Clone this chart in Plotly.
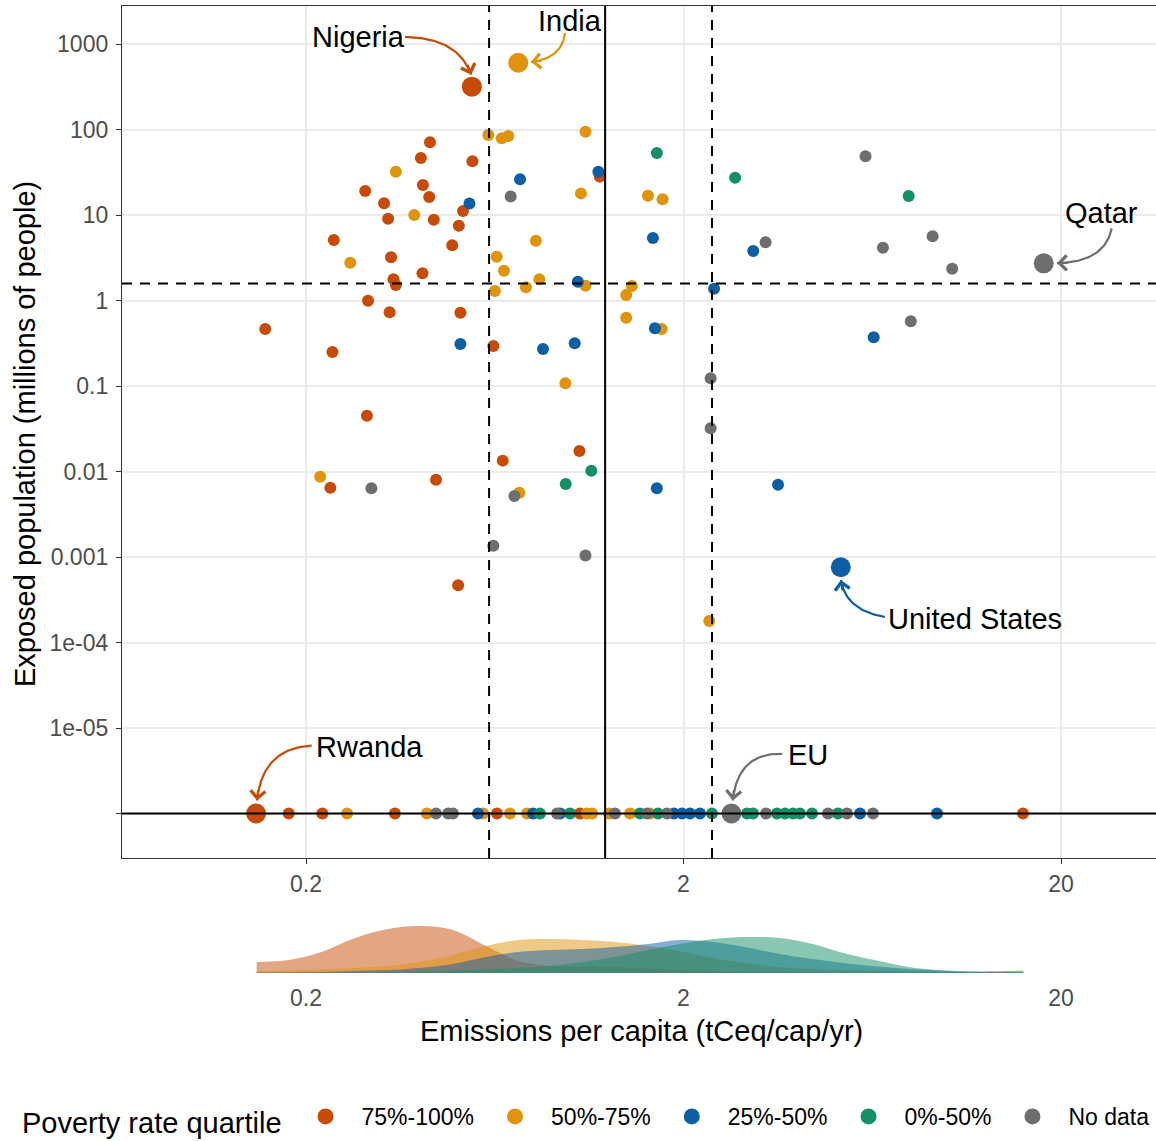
import math
import numpy as np
import plotly.graph_objects as go

# ---------------------------------------------------------------- data
groups = ["75%-100%", "50%-75%", "25%-50%", "0%-50%", "No data"]
group_colors = ["#C84B05", "#E0940E", "#0C5EA5", "#148F66", "#6E6E6E"]
density_fills = ["rgba(200,75,5,0.5)", "rgba(224,148,14,0.5)",
                 "rgba(12,94,165,0.5)", "rgba(20,143,102,0.5)"]

# Emissions per capita (tCeq/cap/yr) and exposed population (millions).
# An exposed population of 0 means no exposure.
pov75_emissions = [0.426, 0.403, 0.552, 1.20, 0.408, 0.287, 0.424, 0.322, 0.521, 0.330,
                   0.436, 0.508, 0.237, 0.488, 0.336, 0.407, 0.341, 0.346, 0.292, 0.333,
                   0.513, 0.156, 0.627, 0.235, 0.290, 0.664, 1.06, 0.232, 0.442, 0.506,
                   0.180, 0.221, 0.344, 0.641, 1.064, 15.86]
pov75_exposed = [70.8, 46.4, 42.5, 28.1, 22.4, 19.1, 16.2, 13.7, 11.1, 9.05,
                 8.81, 7.50, 5.10, 4.42, 3.20, 2.08, 1.77, 1.52, 0.995, 0.728,
                 0.720, 0.464, 0.294, 0.250, 0.0449, 0.0134, 0.0174, 0.00646, 0.00802, 0.000467,
                 0, 0, 0, 0, 0, 0]

pov50_emissions = [0.608, 0.660, 0.687, 1.10, 0.346, 1.07, 0.387, 0.813, 0.262, 0.640,
                   0.669, 0.830, 1.10, 0.633, 0.765, 1.46, 1.41, 1.41, 0.973, 1.61,
                   1.76, 1.75, 0.218, 0.735, 2.34,
                   0.257, 0.418, 0.589, 0.694, 0.770, 1.110, 1.145, 1.270, 1.443, 1.630]
pov50_exposed = [86.2, 78.9, 83.9, 94.2, 32.1, 17.9, 10.0, 5.01, 2.77, 3.25,
                 2.23, 1.77, 1.49, 1.29, 1.43, 1.48, 1.16, 0.629, 0.108, 16.8,
                 15.3, 0.464, 0.00869, 0.00565, 0.000178,
                 0, 0, 0, 0, 0, 0, 0, 0, 0, 0]

pov25_emissions = [0.738, 1.19, 0.542, 1.05, 0.513, 0.849, 1.03, 1.66, 3.06, 2.41,
                   1.68, 6.38, 1.70, 3.56,
                   0.571, 0.799, 0.942, 1.887, 1.982, 2.081, 2.212, 5.870, 9.388]
pov25_exposed = [26.2, 32.1, 13.6, 1.66, 0.310, 0.271, 0.316, 5.38, 3.79, 1.37,
                 0.473, 0.371, 0.00636, 0.00701,
                 0, 0, 0, 0, 0, 0, 0, 0, 0]

pov0_emissions = [1.70, 2.74, 7.90, 1.14, 0.975,
                  0.833, 1.001, 1.534, 1.712, 2.379, 2.946, 3.056, 3.537, 3.714,
                  3.900, 4.070, 4.381, 5.132]
pov0_exposed = [53.1, 27.3, 16.7, 0.0102, 0.00714,
                0, 0, 0, 0, 0, 0, 0, 0, 0, 0, 0, 0, 0]

nodata_emissions = [0.697, 6.07, 3.30, 6.75, 9.14, 10.3, 8.00, 2.36, 2.36, 0.298,
                    0.713, 0.627, 1.10,
                    0.442, 0.476, 0.490, 0.925, 1.317, 1.601, 1.808, 3.309, 4.828,
                    5.422, 6.354]
nodata_exposed = [16.5, 48.6, 4.80, 4.15, 5.64, 2.35, 0.571, 0.123, 0.0320, 0.00636,
                  0.00517, 0.00135, 0.00104,
                  0, 0, 0, 0, 0, 0, 0, 0, 0, 0, 0]

# highlighted countries
hl_country = ["Nigeria", "India", "United States", "Qatar", "Rwanda", "EU"]
hl_group = ["75%-100%", "50%-75%", "25%-50%", "No data", "75%-100%", "No data"]
hl_emissions = [0.550, 0.730, 5.22, 18.0, 0.1475, 2.68]
hl_exposed = [317, 604, 0.000758, 2.72, 0, 0]

# reference levels
emissions_q1, emissions_median, emissions_q3 = 0.611, 1.24, 2.38
exposed_ref = 1.58

# smoothed emissions distribution by poverty quartile
density_emissions = [0.148, 0.18, 0.22, 0.27, 0.33, 0.40, 0.49, 0.60, 0.73, 0.89, 1.08,
                     1.32, 1.61, 1.96, 2.4, 2.9, 3.6, 4.4, 5.3, 6.5, 7.9, 9.7, 11.8,
                     14.4, 15.9]
density_pov75 = [0.22, 0.26, 0.42, 0.70, 0.88, 0.94, 0.86, 0.54, 0.24, 0.14, 0.13, 0.12,
                 0.09, 0.06, 0.04, 0.024, 0.016, 0.01, 0.008, 0.006, 0.006, 0.008, 0.016,
                 0.04, 0.05]
density_pov50 = [0.04, 0.05, 0.07, 0.10, 0.14, 0.22, 0.36, 0.54, 0.66, 0.68, 0.66, 0.62,
                 0.54, 0.44, 0.30, 0.20, 0.12, 0.08, 0.06, 0.04, 0.03, 0.02, 0.012,
                 0.008, 0.006]
density_pov25 = [0.01, 0.014, 0.02, 0.04, 0.06, 0.10, 0.18, 0.32, 0.42, 0.46, 0.48, 0.52,
                 0.58, 0.66, 0.62, 0.52, 0.38, 0.28, 0.20, 0.13, 0.08, 0.05, 0.036,
                 0.024, 0.02]
density_pov0 = [0.0, 0.002, 0.004, 0.008, 0.016, 0.03, 0.05, 0.07, 0.10, 0.14, 0.22, 0.32,
                0.46, 0.58, 0.68, 0.72, 0.70, 0.58, 0.40, 0.25, 0.12, 0.05, 0.016,
                0.006, 0.003]

# ---------------------------------------------------------------- layout geometry
FIG_W, FIG_H = 1156, 1141
FONT = "Liberation Sans, Arial, sans-serif"
X_DOMAIN = [122 / FIG_W, 1.0]
Y_DOMAIN = [(FIG_H - 858) / FIG_H, (FIG_H - 6) / FIG_H]
DENS_DOMAIN = [(FIG_H - 973) / FIG_H, (FIG_H - 915) / FIG_H]
X_RANGE = [-1.1864, 1.5527]
Y_RANGE = [-6.5205, 3.4444]
ZERO_FLOOR = 1e-6  # zero exposure is drawn on this floor line

PX_PER_DEC_X = (X_DOMAIN[1] - X_DOMAIN[0]) * FIG_W / (X_RANGE[1] - X_RANGE[0])
PX_PER_DEC_Y = (Y_DOMAIN[1] - Y_DOMAIN[0]) * FIG_H / (Y_RANGE[1] - Y_RANGE[0])


def on_floor(values):
    return [v if v > 0 else ZERO_FLOOR for v in values]


def shift(x, y, dx, dy):
    """Move a data point by (dx, dy) screen pixels (dy downwards)."""
    return (10 ** (math.log10(x) + dx / PX_PER_DEC_X),
            10 ** (math.log10(y) - dy / PX_PER_DEC_Y))


fig = go.Figure()

series = [
    (pov75_emissions, pov75_exposed),
    (pov50_emissions, pov50_exposed),
    (pov25_emissions, pov25_exposed),
    (pov0_emissions, pov0_exposed),
    (nodata_emissions, nodata_exposed),
]
for name, color, (xs, ys) in zip(groups, group_colors, series):
    fig.add_trace(go.Scatter(
        x=xs, y=on_floor(ys), mode="markers", name=name, legendgroup=name,
        showlegend=False, marker=dict(size=12, color=color, line=dict(width=0)),
        xaxis="x", yaxis="y", hoverinfo="skip"))

color_of = dict(zip(groups, group_colors))
fig.add_trace(go.Scatter(
    x=hl_emissions, y=on_floor(hl_exposed), mode="markers", showlegend=False,
    text=hl_country, marker=dict(size=20, color=[color_of[g] for g in hl_group],
                                 line=dict(width=0)),
    xaxis="x", yaxis="y", hoverinfo="text"))

# legend keys
for name, color in zip(groups, group_colors):
    fig.add_trace(go.Scatter(
        x=[None], y=[None], mode="markers", name=name, legendgroup=name,
        marker=dict(size=16, color=color), xaxis="x", yaxis="y"))

# density strip
for dens, fill in zip([density_pov75, density_pov50, density_pov25, density_pov0],
                      density_fills):
    fig.add_trace(go.Scatter(
        x=density_emissions, y=dens, mode="lines", line=dict(width=0, shape="spline"),
        fill="tozeroy", fillcolor=fill, showlegend=False, hoverinfo="skip",
        xaxis="x2", yaxis="y2"))

# label placement: text offset and curved arrow (start, control, tip) in pixels
label_style = {
    "Nigeria":       dict(text=(-113.7, -49.7), curve=[(-66.7, -49.7), (-14, -49), (-0.7, -12)]),
    "India":         dict(text=(51.7, -41.7), curve=[(46.7, -29.7), (44, -4.5), (12.7, -0.7)]),
    "United States": dict(text=(134.1, 51.7), curve=[(44.1, 49.7), (5, 43), (0.1, 12.7)]),
    "Qatar":         dict(text=(57.3, -50.3), curve=[(68, -35), (61, -1), (13.3, -0.3)]),
    "Rwanda":        dict(text=(113, -67), curve=[(55.7, -68), (6, -65), (1, -13)]),
    "EU":            dict(text=(76.3, -59), curve=[(50.7, -59.7), (6.3, -61), (1.3, -13)]),
}

annotations = []
t = np.linspace(0, 1, 40)
for name, grp, ex, ep in zip(hl_country, hl_group, hl_emissions, hl_exposed):
    st = label_style[name]
    color = color_of[grp]
    y0 = ep if ep > 0 else ZERO_FLOOR
    (sx, sy), (cx, cy), (tx, ty) = st["curve"]
    bx = (1 - t) ** 2 * sx + 2 * (1 - t) * t * cx + t ** 2 * tx
    by = (1 - t) ** 2 * sy + 2 * (1 - t) * t * cy + t ** 2 * ty
    pts = [shift(ex, y0, a, b) for a, b in zip(bx, by)]
    fig.add_trace(go.Scatter(
        x=[p[0] for p in pts], y=[p[1] for p in pts], mode="lines",
        line=dict(color=color, width=2.2), showlegend=False, hoverinfo="skip",
        xaxis="x", yaxis="y"))
    ux, uy = tx - cx, ty - cy
    norm = math.hypot(ux, uy)
    hx, hy = shift(ex, y0, tx, ty)
    annotations.append(dict(
        x=math.log10(hx), y=math.log10(hy), xref="x", yref="y", text="",
        showarrow=True, arrowhead=4, arrowsize=1.3, arrowwidth=2.2, arrowcolor=color,
        ax=-ux / norm * 12, ay=-uy / norm * 12, standoff=0))
    dx, dy = st["text"]
    annotations.append(dict(
        x=math.log10(ex), y=math.log10(y0), xref="x", yref="y", text=name,
        showarrow=False, xshift=dx, yshift=-dy, xanchor="center", yanchor="middle",
        font=dict(size=29, color="black", family=FONT)))

# axis titles
annotations.append(dict(
    x=25 / FIG_W, y=(FIG_H - 434) / FIG_H, xref="paper", yref="paper",
    text="Exposed population (millions of people)", textangle=-90, showarrow=False,
    xanchor="center", yanchor="middle", font=dict(size=29, color="black", family=FONT)))
annotations.append(dict(
    x=641 / FIG_W, y=(FIG_H - 1031) / FIG_H, xref="paper", yref="paper",
    text="Emissions per capita (tCeq/cap/yr)", showarrow=False,
    xanchor="center", yanchor="middle", font=dict(size=29, color="black", family=FONT)))

dash = "10px,8px"
shapes = [
    dict(type="line", xref="x", yref="y domain", x0=emissions_q1, x1=emissions_q1,
         y0=0, y1=1, line=dict(color="black", width=2, dash=dash), layer="above"),
    dict(type="line", xref="x", yref="y domain", x0=emissions_q3, x1=emissions_q3,
         y0=0, y1=1, line=dict(color="black", width=2, dash=dash), layer="above"),
    dict(type="line", xref="x", yref="y domain", x0=emissions_median, x1=emissions_median,
         y0=0, y1=1, line=dict(color="black", width=2), layer="above"),
    dict(type="line", xref="x domain", yref="y", x0=0, x1=1, y0=exposed_ref,
         y1=exposed_ref, line=dict(color="black", width=2, dash=dash), layer="above"),
    dict(type="line", xref="x domain", yref="y", x0=0, x1=1, y0=ZERO_FLOOR,
         y1=ZERO_FLOOR, line=dict(color="black", width=2), layer="above"),
]

y_ticks = [1e-6, 1e-5, 1e-4, 1e-3, 1e-2, 1e-1, 1, 10, 100, 1000]
y_ticktext = ["", "1e-05", "1e-04", "0.001", "0.01", "0.1", "1", "10", "100", "1000"]
x_ticks = [0.2, 2, 20]
x_ticktext = ["0.2", "2", "20"]
tickfont = dict(size=23, color="#4D4D4D", family=FONT)

fig.update_layout(
    width=FIG_W, height=FIG_H, margin=dict(l=0, r=0, t=0, b=0, autoexpand=False),
    paper_bgcolor="white", plot_bgcolor="white",
    font=dict(family=FONT, color="black"),
    xaxis=dict(type="log", range=X_RANGE, domain=X_DOMAIN, anchor="y",
               tickvals=x_ticks, ticktext=x_ticktext, ticks="outside", ticklen=5,
               tickwidth=1.2, tickcolor="#333333", tickfont=tickfont,
               showgrid=True, gridcolor="#EBEBEB", gridwidth=1.6, zeroline=False,
               showline=True, linecolor="#333333", linewidth=1.3, mirror=True),
    yaxis=dict(type="log", range=Y_RANGE, domain=Y_DOMAIN, anchor="x",
               tickvals=y_ticks, ticktext=y_ticktext, ticks="outside", ticklen=5,
               tickwidth=1.2, tickcolor="#333333", tickfont=tickfont,
               ticklabelstandoff=3,
               showgrid=True, gridcolor="#EBEBEB", gridwidth=1.6, zeroline=False,
               showline=True, linecolor="#333333", linewidth=1.3, mirror=True),
    xaxis2=dict(type="log", range=X_RANGE, domain=X_DOMAIN, anchor="y2",
                tickvals=x_ticks, ticktext=x_ticktext, ticks="", tickfont=tickfont,
                ticklabelstandoff=9,
                showgrid=False, zeroline=False, showline=False),
    yaxis2=dict(range=[0, 1.16], domain=DENS_DOMAIN, anchor="x2", visible=False),
    legend=dict(orientation="h", x=20 / FIG_W, xanchor="left",
                y=(FIG_H - 1119) / FIG_H, yanchor="middle",
                font=dict(size=23, color="black", family=FONT),
                title=dict(text="Poverty rate quartile", side="left",
                           font=dict(size=29, color="black", family=FONT)),
                itemwidth=62, bgcolor="rgba(0,0,0,0)", borderwidth=0),
    shapes=shapes, annotations=annotations,
)

fig.write_html("out.html")
